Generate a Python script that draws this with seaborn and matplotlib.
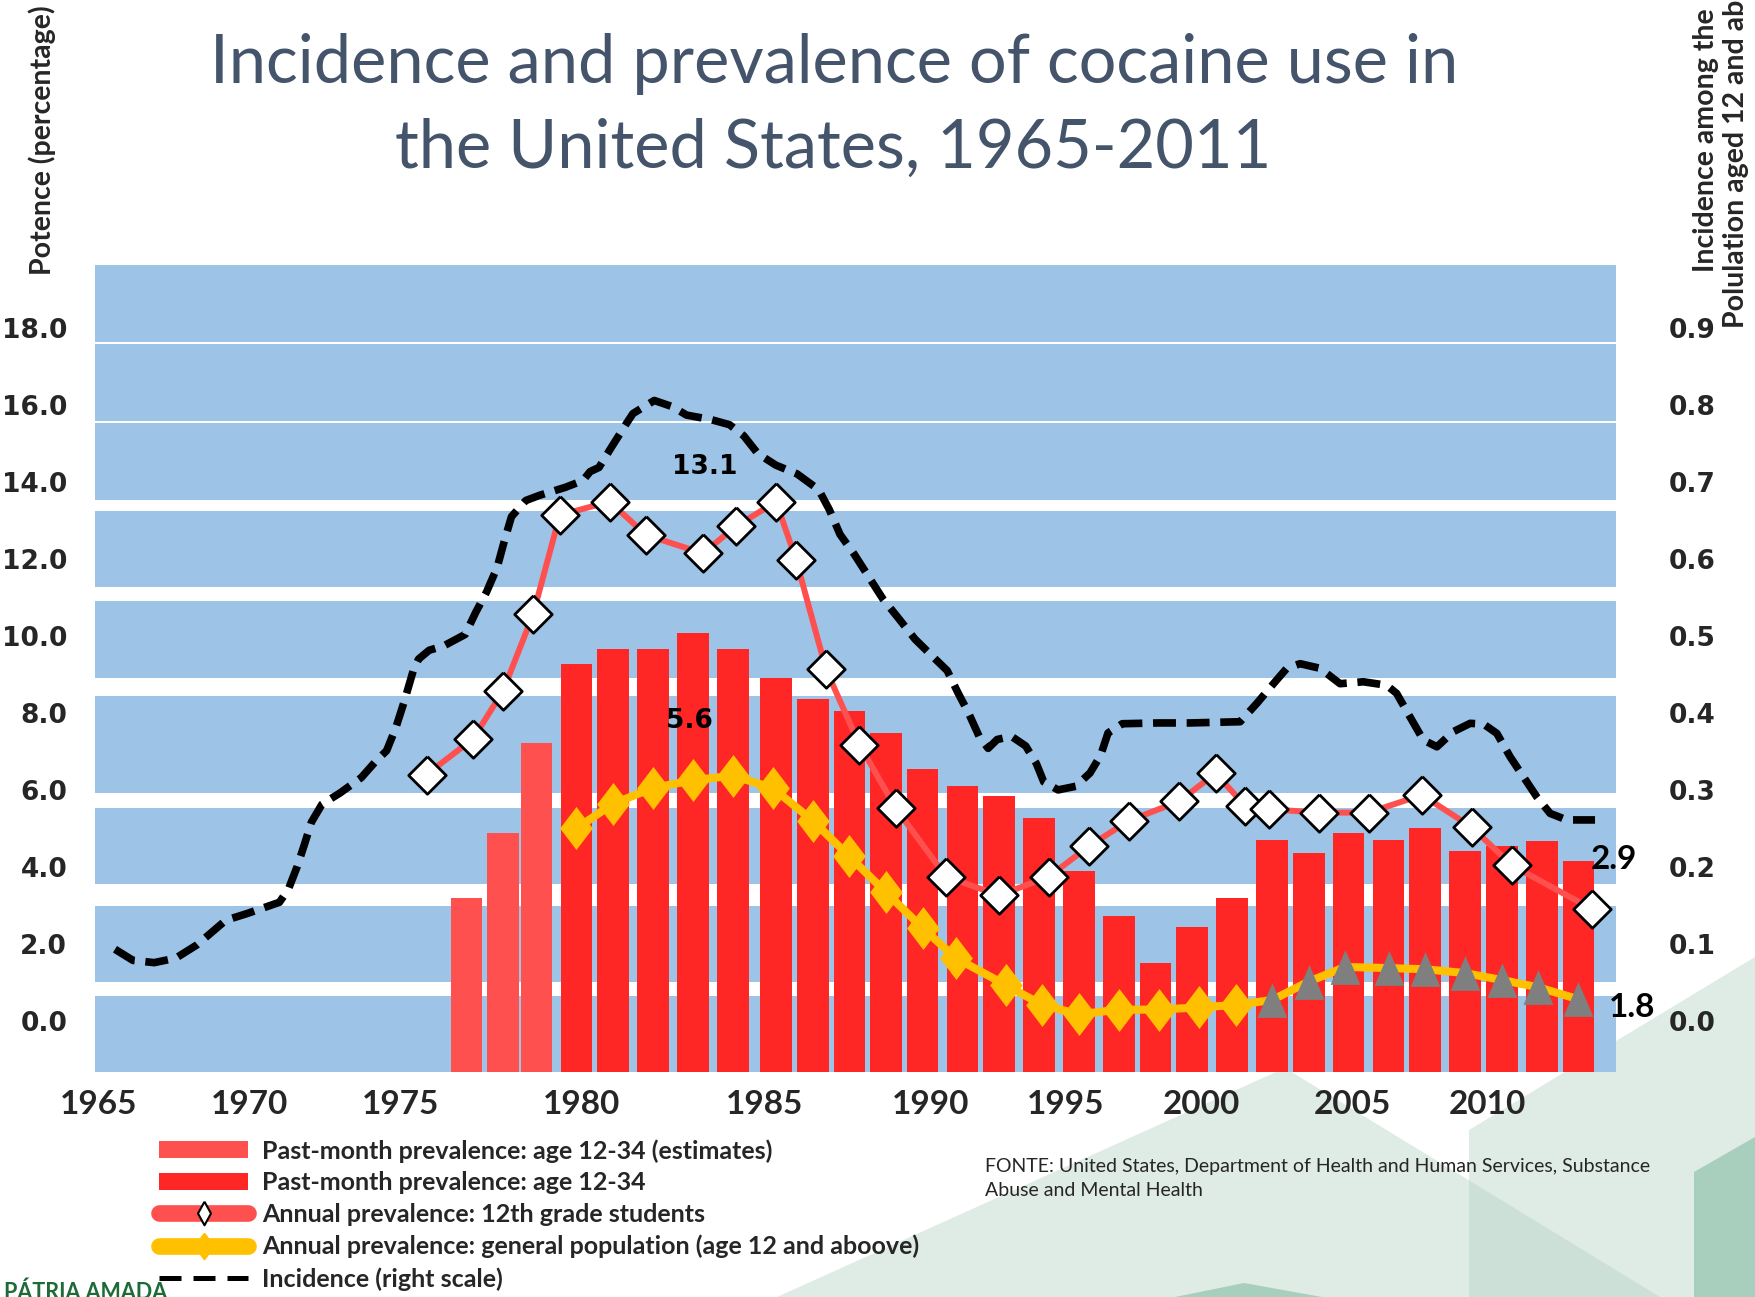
import matplotlib
matplotlib.use('Agg')
import matplotlib.pyplot as plt
import seaborn as sns
import numpy as np
from matplotlib.patches import Patch, Polygon
from matplotlib.lines import Line2D

# ---- data (left scale in %, right scale = incidence) ----
est_years = [1977.2, 1978.3, 1979.3]
est_prev = [3.2, 4.89, 7.21]

pm_years = [1980.5, 1981.6, 1982.8, 1984.0, 1985.2, 1986.5, 1987.6, 1988.7, 1989.8,
            1990.9, 1992.1, 1993.2, 1994.4, 1995.6, 1996.8, 1997.9, 1999.0, 2000.2,
            2001.4, 2002.5, 2003.7, 2004.9, 2006.0, 2007.2, 2008.3, 2009.5, 2010.6]
pm_prev = [9.28, 9.65, 9.65, 10.09, 9.65, 8.90, 8.35, 8.05, 7.47,
           6.54, 6.11, 5.84, 5.26, 3.90, 2.73, 1.51, 2.44, 3.20,
           4.71, 4.36, 4.89, 4.71, 5.00, 4.42, 4.54, 4.68, 4.16]

g12_years = [1976.0, 1977.4, 1978.3, 1979.2, 1980.0, 1981.5, 1982.6, 1984.3, 1985.3,
             1986.5, 1987.1, 1988.0, 1989.0, 1990.1, 1991.6, 1993.2, 1994.7, 1995.9,
             1997.1, 1998.6, 1999.7, 2000.6, 2001.3, 2002.8, 2004.3, 2005.9, 2007.4,
             2008.6, 2011.0]
g12_prev = [6.40, 7.33, 8.58, 10.56, 13.14, 13.49, 12.62, 12.15, 12.85,
            13.49, 11.98, 9.13, 7.18, 5.52, 3.75, 3.26, 3.75, 4.54,
            5.20, 5.70, 6.43, 5.58, 5.50, 5.41, 5.41, 5.87, 5.03,
            4.04, 2.91]

gp_years = [1980.5, 1981.6, 1982.8, 1984.0, 1985.2, 1986.4, 1987.6, 1988.7, 1989.8,
            1990.9, 1991.9, 1993.4, 1994.5, 1995.6, 1996.8, 1998.0, 1999.2, 2000.3]
gp_prev = [5.00, 5.64, 6.05, 6.25, 6.37, 6.05, 5.20, 4.27, 3.34,
           2.41, 1.63, 0.93, 0.41, 0.17, 0.29, 0.29, 0.35, 0.41]
tri_years = [2001.4, 2002.5, 2003.6, 2004.9, 2006.0, 2007.2, 2008.3, 2009.4, 2010.6]
tri_prev = [0.54, 1.02, 1.40, 1.37, 1.34, 1.24, 1.06, 0.87, 0.56]

inc_years = [1966.64, 1967.18, 1967.82, 1968.47, 1969.11, 1969.97, 1970.61, 1971.58, 1971.85,
             1972.11, 1972.33, 1972.54, 1972.86, 1973.40, 1974.04, 1974.47, 1974.80, 1975.07,
             1975.33, 1975.60, 1975.76, 1976.08, 1976.51, 1977.16, 1977.48, 1977.80, 1978.12,
             1978.34, 1978.55, 1978.98, 1979.41, 1980.16, 1980.70, 1980.91, 1981.18, 1981.55,
             1981.98, 1982.20, 1982.84, 1983.38, 1983.81, 1984.56, 1985.10, 1985.53, 1985.95,
             1986.49, 1987.13, 1987.78, 1988.10, 1988.42, 1988.85, 1989.28, 1989.71, 1990.14,
             1990.67, 1991.21, 1991.64, 1991.96, 1992.28, 1992.61, 1992.87, 1993.14, 1993.57,
             1994.00, 1994.32, 1994.54, 1994.97, 1995.50, 1995.93, 1996.25, 1996.47, 1996.90,
             1997.97, 1998.93, 2000.44, 2000.94, 2001.44, 2001.84, 2002.24, 2002.84, 2003.44,
             2004.14, 2004.84, 2005.14, 2005.54, 2005.94, 2006.35, 2006.84, 2007.35, 2007.75,
             2008.15, 2008.55, 2008.95, 2009.35, 2009.75, 2010.25, 2011.10]
inc_vals = [0.093, 0.0785, 0.0756, 0.0815, 0.0989, 0.1307, 0.1394, 0.154, 0.171,
            0.200, 0.229, 0.258, 0.2815, 0.296, 0.316, 0.337, 0.351, 0.380,
            0.415, 0.455, 0.470, 0.4815, 0.487, 0.502, 0.531, 0.557, 0.589,
            0.624, 0.655, 0.676, 0.683, 0.693, 0.702, 0.7135, 0.719, 0.745,
            0.7745, 0.789, 0.806, 0.798, 0.787, 0.781, 0.7745, 0.760, 0.737,
            0.722, 0.7106, 0.690, 0.664, 0.632, 0.606, 0.577, 0.548, 0.525,
            0.496, 0.473, 0.455, 0.4265, 0.400, 0.3685, 0.354, 0.3655, 0.3696,
            0.357, 0.334, 0.3105, 0.300, 0.3047, 0.322, 0.345, 0.374, 0.386,
            0.387, 0.387, 0.3886, 0.4124, 0.438, 0.458, 0.464, 0.458, 0.438,
            0.4405, 0.436, 0.4254, 0.395, 0.365, 0.356, 0.3756, 0.3865, 0.3856,
            0.3735, 0.343, 0.317, 0.291, 0.2695, 0.261, 0.261]

# year labels sit where the original slide put them (its year axis is uneven)
xtick_pos = [1966.15, 1970.69, 1975.23, 1980.67, 1986.15, 1991.13, 1995.2, 1999.27, 2003.81, 2007.88]
xtick_labels = ['1965', '1970', '1975', '1980', '1985', '1990', '1995', '2000', '2005', '2010']
left_ticks = [0, 2, 4, 6, 8, 10, 12, 14, 16, 18]
right_ticks = [0.0, 0.1, 0.2, 0.3, 0.4, 0.5, 0.6, 0.7, 0.8, 0.9]

# blue background stripes (left-scale units)
band_lo = [17.63, 15.59, 13.54, 11.27, 8.92, 5.91, 3.56, 1.01, -1.40]
band_hi = [19.70, 17.59, 15.53, 13.24, 10.91, 8.44, 5.54, 2.98, 0.64]

LIGHT_RED = '#FF5050'
DARK_RED = '#FF2626'
YELLOW = '#FFC000'
BLUE = '#9DC3E6'
GREY = '#7F7F7F'

sns.set_theme(style='white')
plt.rcParams['font.family'] = ['Lato', 'DejaVu Sans']

W, H = 1755, 1297
fig = plt.figure(figsize=(W / 100, H / 100), dpi=100)
fig.patch.set_facecolor('white')

# decorative background shapes of the slide
def fig_poly(pts, **kw):
    p = Polygon([(x / W, 1 - y / H) for x, y in pts], closed=True,
                transform=fig.transFigure, zorder=-5, lw=0, **kw)
    fig.patches.append(p)

fig_poly([(777, 1297), (1285, 1068), (1660, 1297)], facecolor='#B9D3C6', alpha=0.45)
fig_poly([(1469, 1297), (1469, 1130), (1755, 957), (1755, 1297)], facecolor='#B9D3C6', alpha=0.45)
fig_poly([(1694, 1297), (1694, 1172), (1755, 1137), (1755, 1297)], facecolor='#A8CFBD')
fig_poly([(1175, 1297), (1244, 1283), (1322, 1297)], facecolor='#A8CFBD')

ax = fig.add_axes([95 / W, 1 - 1072 / H, (1616 - 95) / W, (1072 - 265) / H])
ax.set_facecolor('white')
ymin, ymax = -1.33, 19.64
ax.set_xlim(1966.04, 2011.73)
ax.set_ylim(ymin, ymax)

for lo, hi in zip(band_lo, band_hi):
    ax.axhspan(lo, hi, color=BLUE, lw=0, zorder=0)

# bars start at the bottom of the plotting area
ax.bar(est_years, np.array(est_prev) - ymin, bottom=ymin, width=0.95,
       color=LIGHT_RED, lw=0, zorder=2)
ax.bar(pm_years, np.array(pm_prev) - ymin, bottom=ymin, width=0.95,
       color=DARK_RED, lw=0, zorder=2)

diamond = [(0, 1), (1, 0), (0, -1), (-1, 0), (0, 1)]
tall_diamond = [(0, 1), (0.76, 0), (0, -1), (-0.76, 0), (0, 1)]
thin_diamond = [(0, 1), (0.55, 0), (0, -1), (-0.55, 0), (0, 1)]
triangle = [(0, 1), (0.86, -1), (-0.86, -1), (0, 1)]

# 12th grade students
sns.lineplot(x=g12_years, y=g12_prev, ax=ax, color=LIGHT_RED, lw=4.3,
             sort=False, estimator=None, zorder=3)
ax.plot(g12_years, g12_prev, ls='none', marker=diamond, ms=27, mfc='white',
        mec='black', mew=2.0, zorder=4)

# general population
sns.lineplot(x=gp_years + tri_years, y=gp_prev + tri_prev, ax=ax, color=YELLOW,
             lw=5.8, sort=False, estimator=None, zorder=3)
ax.plot(gp_years, gp_prev, ls='none', marker=tall_diamond, ms=31, mfc=YELLOW,
        mec=YELLOW, mew=0, zorder=4)
ax.plot(tri_years, tri_prev, ls='none', marker=triangle, ms=25, mfc=GREY,
        mec=GREY, mew=0, zorder=4)

TICK_FONT = ['DejaVu Sans']
ax.set_xticks(xtick_pos)
ax.set_xticklabels(xtick_labels, fontsize=24, fontweight='bold')
ax.set_yticks(left_ticks)
ax.set_yticklabels([f'{v:.1f}' for v in left_ticks], fontsize=19, fontweight='bold',
                   family=TICK_FONT)
ax.tick_params(axis='x', length=0, pad=13)
ax.tick_params(axis='y', length=0, pad=20)
for s in ax.spines.values():
    s.set_visible(False)
ax.grid(False)

# incidence on the right scale
ax2 = ax.twinx()
ax2.set_ylim(ymin / 20, ymax / 20)
sns.lineplot(x=inc_years, y=inc_vals, ax=ax2, color='black', lw=5.5,
             linestyle=(0, (3.0, 1.4)), dash_capstyle='butt', sort=False, estimator=None)
ax2.set_yticks(right_ticks)
ax2.set_yticklabels([f'{v:.1f}' for v in right_ticks], fontsize=19, fontweight='bold',
                    family=TICK_FONT)
ax2.tick_params(axis='y', length=0, pad=38)
for s in ax2.spines.values():
    s.set_visible(False)
ax2.grid(False)
ax2.set_ylabel('')

# value callouts
for x, y, t, fam in [(1984.37, 14.40, '13.1', TICK_FONT), (1983.90, 7.79, '5.6', TICK_FONT),
                     (2011.67, 4.19, '2.9', ['Lato']), (2012.21, 0.345, '1.8', ['Lato'])]:
    ax.text(x, y, t, ha='center', va='center', fontsize=19 if fam == TICK_FONT else 24,
            fontweight='bold', family=fam, color='black', zorder=6)

# title and axis captions
fig.text(0.475, 0.918, 'Incidence and prevalence of cocaine use in\nthe United States, 1965-2011',
         ha='center', va='center', fontsize=48, color='#44546A', linespacing=1.45)
fig.text(42 / W, 1 - 140 / H, 'Potence (percentage)', rotation=90, ha='center',
         va='center', fontsize=20.5, fontweight='bold')
fig.text(1721 / W, 1 - 140 / H, 'Incidence among the\nPolulation aged 12 and above',
         rotation=90, ha='center', va='center', fontsize=20.5, fontweight='bold',
         multialignment='center', linespacing=1.2)

# legend
handles = [
    Patch(facecolor=LIGHT_RED, lw=0),
    Patch(facecolor=DARK_RED, lw=0),
    Line2D([], [], color=LIGHT_RED, lw=12, marker=thin_diamond, ms=17,
           mfc='white', mec='black', mew=1.5),
    Line2D([], [], color=YELLOW, lw=12, marker=tall_diamond, ms=19,
           mfc=YELLOW, mec=YELLOW),
    Line2D([], [], color='black', lw=3.6, ls=(0, (4.4, 2.4))),
]
labels = ['Past-month prevalence: age 12-34 (estimates)',
          'Past-month prevalence: age 12-34',
          'Annual prevalence: 12th grade students',
          'Annual prevalence: general population (age 12 and aboove)',
          'Incidence (right scale)']
fig.legend(handles, labels, loc='upper left', bbox_to_anchor=(159 / W, 1 - 1139 / H),
           frameon=False, borderpad=0, borderaxespad=0, handlelength=3.56,
           handleheight=0.68, handletextpad=0.56, labelspacing=0.35,
           prop={'family': ['Lato', 'DejaVu Sans'], 'weight': 'bold', 'size': 18})

fig.text(985 / W, 1 - 1158 / H,
         'FONTE: United States, Department of Health and Human Services, Substance\n'
         'Abuse and Mental Health', ha='left', va='top', fontsize=14, linespacing=1.5)

fig.text(0.002, -0.0015, 'PÁTRIA AMADA', ha='left', va='baseline', fontsize=15.5,
         fontweight='bold', color='#1D6B36')

fig.savefig('out.png', dpi=100)
plt.close(fig)
